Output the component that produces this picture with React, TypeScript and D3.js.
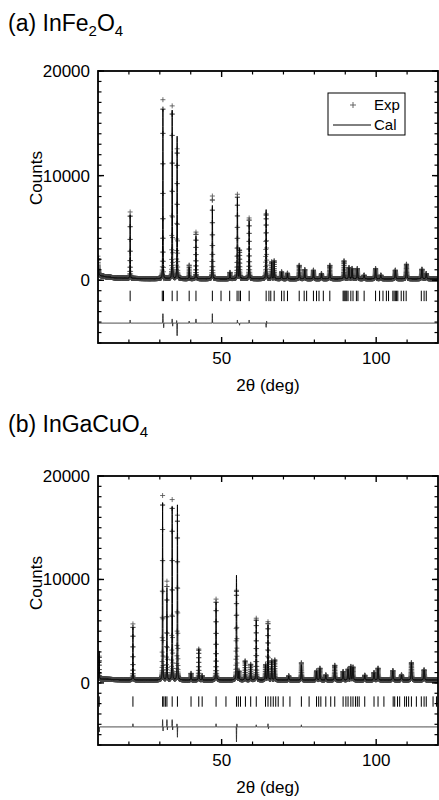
import React from 'react';
import * as d3 from 'd3';

// ---------- shared axis values ----------
const X_DOMAIN: [number, number] = [10, 120];
const Y_DOMAIN: [number, number] = [-6000, 20000];
const xMajorTicks = [50, 100];
const xMinorTicks = [20, 30, 40, 60, 70, 80, 90, 110];
const yMajorTicks = [0, 10000, 20000];
const yMinorStep = 1000;
const STEP = 0.02;

// ---------- (a) InFe2O4 ----------
const peakPosA = [20.4, 31.0, 34.0, 35.6, 39.5, 41.7, 47.0, 52.7, 55.1, 55.8, 58.9, 64.4, 66.2, 67.0, 69.4, 71.3, 75.1, 76.9, 79.7, 82.3, 85.0, 89.6, 91.2, 92.2, 93.9, 96.1, 99.8, 101.5, 106.2, 109.8, 114.8, 116.2];
const peakIntA = [6050, 16200, 16100, 13600, 1100, 4050, 7000, 600, 7750, 2900, 5500, 6600, 1600, 1700, 650, 520, 1280, 870, 810, 490, 1280, 1700, 1060, 970, 970, 330, 970, 330, 810, 1380, 900, 490];
const braggA = [20.4, 30.8, 31.2, 34.0, 35.6, 39.5, 41.7, 47.0, 49.8, 52.6, 55.0, 55.6, 56.1, 58.9, 64.4, 65.3, 65.9, 67.0, 69.4, 70.2, 71.3, 75.1, 76.7, 77.5, 79.7, 80.7, 81.5, 82.9, 85.0, 89.3, 89.6, 89.9, 90.2, 90.5, 90.9, 91.8, 92.5, 93.6, 94.1, 96.1, 99.8, 101.1, 102.2, 103.3, 104.0, 105.4, 105.8, 106.2, 106.6, 107.0, 108.1, 108.9, 109.7, 114.6, 115.5, 116.2];
const diffPosA = [20.4, 31.0, 31.25, 34.0, 34.15, 35.45, 35.6, 39.5, 41.7, 47.0, 55.1, 55.8, 58.9, 64.4, 64.55];
const diffAmpA = [300, 900, -450, 400, -300, 250, -1200, 200, 400, 900, 300, -200, 300, -400, 200];
const bgLevelA = 150;
const bgLowAmpA = 350;
const bgEdgeAmpA = 1800;
const braggRangeA: [number, number] = [-1000, -2000];
const diffOffsetA = -4100;

// ---------- (b) InGaCuO4 ----------
const peakPosB = [10.4, 21.3, 30.9, 32.3, 34.0, 35.7, 40.1, 42.6, 43.7, 48.2, 54.8, 55.6, 57.6, 59.4, 61.2, 64.2, 65.0, 66.2, 67.2, 71.7, 75.8, 80.7, 81.8, 83.7, 86.6, 89.3, 90.9, 91.8, 92.5, 96.3, 99.3, 100.6, 105.4, 108.2, 111.4, 115.5];
const peakIntB = [2700, 5100, 17100, 8800, 16700, 16900, 630, 2980, 400, 7500, 10100, 800, 1830, 1500, 5750, 1440, 5300, 1830, 1920, 380, 1460, 860, 1120, 470, 1410, 800, 1020, 1280, 1220, 440, 700, 1120, 890, 470, 1660, 960];
const braggB = [10.4, 21.3, 30.9, 31.3, 31.8, 32.3, 34.0, 35.7, 40.1, 42.6, 43.7, 48.2, 51.4, 54.8, 55.4, 56.1, 57.7, 59.4, 61.2, 64.2, 65.0, 65.9, 66.7, 67.5, 68.3, 69.9, 72.1, 75.8, 78.3, 80.7, 81.4, 82.1, 83.7, 85.3, 86.6, 89.3, 90.2, 90.9, 91.8, 92.5, 93.3, 93.9, 94.5, 96.3, 99.3, 100.6, 102.5, 105.5, 106.0, 106.9, 107.6, 109.2, 109.8, 110.5, 111.4, 113.0, 114.6, 115.5, 116.2, 118.4, 119.5];
const diffPosB = [10.4, 21.3, 30.9, 31.05, 32.3, 32.45, 34.0, 34.15, 35.55, 35.7, 48.2, 54.8, 54.95, 61.2, 65.0, 65.15, 75.8];
const diffAmpB = [-500, 300, 700, -400, 700, -300, 700, -300, 300, -1000, 300, -1450, 300, 200, 300, -200, 200];
const bgLevelB = 300;
const bgLowAmpB = 100;
const bgEdgeAmpB = 0;
const braggRangeB: [number, number] = [-1300, -2300];
const diffOffsetB = -4250;

type PanelDef = {
  title: string; sub1: string; mid: string; sub2: string;
  peakPos: number[]; peakInt: number[]; bragg: number[];
  diffPos: number[]; diffAmp: number[];
  bgLevel: number; bgLowAmp: number; bgEdgeAmp: number;
  braggRange: [number, number]; diffOffset: number;
  top: number; bottom: number; titleY: number; legend: boolean;
};

const panels: PanelDef[] = [
  { title: '(a) InFe', sub1: '2', mid: 'O', sub2: '4', peakPos: peakPosA, peakInt: peakIntA, bragg: braggA, diffPos: diffPosA, diffAmp: diffAmpA, bgLevel: bgLevelA, bgLowAmp: bgLowAmpA, bgEdgeAmp: bgEdgeAmpA, braggRange: braggRangeA, diffOffset: diffOffsetA, top: 71, bottom: 343, titleY: 31, legend: true },
  { title: '(b) InGaCu', sub1: '', mid: 'O', sub2: '4', peakPos: peakPosB, peakInt: peakIntB, bragg: braggB, diffPos: diffPosB, diffAmp: diffAmpB, bgLevel: bgLevelB, bgLowAmp: bgLowAmpB, bgEdgeAmp: bgEdgeAmpB, braggRange: braggRangeB, diffOffset: diffOffsetB, top: 476, bottom: 745, titleY: 432, legend: false },
];

const LEFT = 98;
const RIGHT = 438;
const FONT = '"Liberation Sans", Arial, Helvetica, sans-serif';

function calc(p: PanelDef, t: number): number {
  let y = p.bgLevel + p.bgLowAmp * Math.exp(-(t - 10) / 4) + p.bgEdgeAmp * Math.exp(-(t - 10) / 0.15);
  for (let i = 0; i < p.peakPos.length; i++) {
    const d = t - p.peakPos[i];
    if (Math.abs(d) > 4) continue;
    const H = 0.11 + 0.0016 * p.peakPos[i];
    const r = (d * d) / (H * H);
    y += p.peakInt[i] * (0.7 * Math.exp(-4 * Math.LN2 * r) + 0.3 / (1 + 4 * r));
  }
  return y;
}
function diff(p: PanelDef, t: number): number {
  let y = 0;
  for (let i = 0; i < p.diffPos.length; i++) {
    const d = t - p.diffPos[i];
    if (Math.abs(d) > 1) continue;
    y += p.diffAmp[i] * Math.exp(-(d * d) / (2 * 0.035 * 0.035));
  }
  return y;
}

function Panel({ p, idx }: { p: PanelDef; idx: number }) {
  const x = d3.scaleLinear().domain(X_DOMAIN).range([LEFT, RIGHT]);
  const y = d3.scaleLinear().domain(Y_DOMAIN).range([p.bottom, p.top]);
  const n = Math.round((X_DOMAIN[1] - X_DOMAIN[0]) / STEP);
  const grid = d3.range(n + 1).map((i) => X_DOMAIN[0] + i * STEP);
  const fine = d3.range(2 * n + 1).map((i) => X_DOMAIN[0] + i * STEP / 2);

  const calLine = d3.line<number>().x((t) => x(t)).y((t) => y(calc(p, t)))(fine) || '';
  const diffLine = d3.line<number>().x((t) => x(t)).y((t) => y(p.diffOffset + diff(p, t)))(grid) || '';
  let plus = '';
  for (const t of grid) {
    const px = x(t);
    const py = y(calc(p, t) + diff(p, t));
    plus += `M${(px - 2.5).toFixed(2)},${py.toFixed(2)}h5M${px.toFixed(2)},${(py - 2.5).toFixed(2)}v5`;
  }
  const yMinor = d3.range(Y_DOMAIN[0], Y_DOMAIN[1] + 1, yMinorStep);
  const clipId = `clip${idx}`;
  const cx = (LEFT + RIGHT) / 2;
  const cyCounts = p.top + 107;

  return (
    <g>
      <text x={8} y={p.titleY} fontSize={23} fontFamily={FONT} fill="#000">
        {p.title}
        {p.sub1 ? <tspan fontSize={15} dy={5}>{p.sub1}</tspan> : null}
        <tspan dy={p.sub1 ? -5 : 0}>{p.mid}</tspan>
        <tspan fontSize={15} dy={5}>{p.sub2}</tspan>
      </text>
      <defs>
        <clipPath id={clipId}>
          <rect x={LEFT} y={p.top} width={RIGHT - LEFT} height={p.bottom - p.top} />
        </clipPath>
      </defs>
      <g clipPath={`url(#${clipId})`}>
        <path d={plus} stroke="#4a4a4a" strokeWidth={0.8} fill="none" />
        <path d={calLine} stroke="#000" strokeWidth={1} fill="none" />
        {p.bragg.map((b, i) => (
          <line key={i} x1={x(b)} x2={x(b)} y1={y(p.braggRange[0])} y2={y(p.braggRange[1])} stroke="#000" strokeWidth={1} />
        ))}
        <path d={diffLine} stroke="#333" strokeWidth={1} fill="none" />
      </g>
      {yMinor.map((v) => (
        <g key={`ym${v}`}>
          <line x1={LEFT} x2={LEFT + 3.5} y1={y(v)} y2={y(v)} stroke="#000" strokeWidth={1.2} />
          <line x1={RIGHT} x2={RIGHT - 3.5} y1={y(v)} y2={y(v)} stroke="#000" strokeWidth={1.2} />
        </g>
      ))}
      {yMajorTicks.map((v) => (
        <g key={`yM${v}`}>
          <line x1={LEFT} x2={LEFT + 6} y1={y(v)} y2={y(v)} stroke="#000" strokeWidth={1.4} />
          <line x1={RIGHT} x2={RIGHT - 6} y1={y(v)} y2={y(v)} stroke="#000" strokeWidth={1.4} />
          <text x={90} y={y(v) + 6} textAnchor="end" fontSize={17} fontFamily={FONT}>{v}</text>
        </g>
      ))}
      {xMinorTicks.map((v) => (
        <g key={`xm${v}`}>
          <line x1={x(v)} x2={x(v)} y1={p.bottom} y2={p.bottom - 3.5} stroke="#000" strokeWidth={1.2} />
          <line x1={x(v)} x2={x(v)} y1={p.top} y2={p.top + 3.5} stroke="#000" strokeWidth={1.2} />
        </g>
      ))}
      {xMajorTicks.map((v) => (
        <g key={`xM${v}`}>
          <line x1={x(v)} x2={x(v)} y1={p.bottom} y2={p.bottom - 6} stroke="#000" strokeWidth={1.4} />
          <line x1={x(v)} x2={x(v)} y1={p.top} y2={p.top + 6} stroke="#000" strokeWidth={1.4} />
          <text x={x(v)} y={p.bottom + 21} textAnchor="middle" fontSize={17} fontFamily={FONT}>{v}</text>
        </g>
      ))}
      <rect x={LEFT} y={p.top} width={RIGHT - LEFT} height={p.bottom - p.top} fill="none" stroke="#000" strokeWidth={1.8} />
      <text x={cx} y={p.bottom + 48} textAnchor="middle" fontSize={17} fontFamily={FONT}>2θ (deg)</text>
      <text transform={`translate(42,${cyCounts}) rotate(-90)`} textAnchor="middle" fontSize={17} fontFamily={FONT}>Counts</text>
      {p.legend ? (
        <g>
          <rect x={328} y={93} width={77} height={42} fill="#fff" stroke="#000" strokeWidth={1} />
          <path d="M350,105h6M353,102v6" stroke="#555" strokeWidth={0.9} />
          <text x={374} y={110} fontSize={15} fontFamily={FONT}>Exp</text>
          <line x1={333} x2={371} y1={125} y2={125} stroke="#000" strokeWidth={1} />
          <text x={374} y={130} fontSize={15} fontFamily={FONT}>Cal</text>
        </g>
      ) : null}
    </g>
  );
}

export default function App() {
  return (
    <svg width={439} height={800} style={{ position: 'absolute', left: 0, top: 0, background: '#fff' }}>
      <rect width={439} height={800} fill="#fff" />
      {panels.map((p, i) => (
        <Panel key={i} p={p} idx={i} />
      ))}
    </svg>
  );
}
